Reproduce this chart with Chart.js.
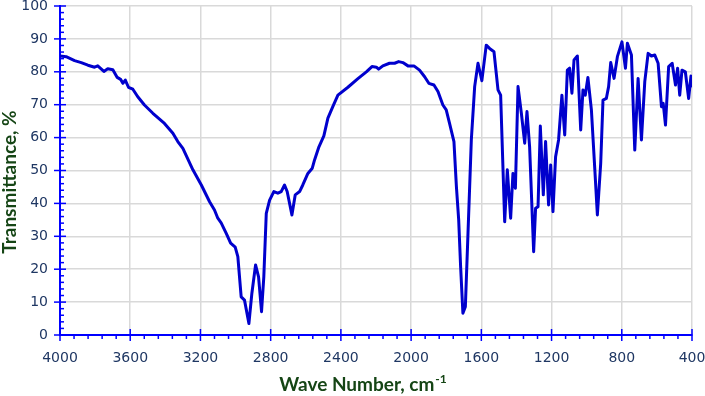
<!DOCTYPE html>
<html>
<head>
<meta charset="utf-8">
<script src="https://cdn.jsdelivr.net/npm/chart.js@4.4.1/dist/chart.umd.min.js"></script>
<style>
html, body { margin: 0; padding: 0; background: #fff; }
#wrap { width: 705px; height: 396px; }
</style>
</head>
<body>
<div id="wrap"><canvas id="irChart" width="705" height="396"></canvas></div>
<script>
// spectrum (cm-1, %)
const waveNumbers = [
    4000, 3965, 3917, 3879, 3841, 3803, 3785, 3750, 3728, 3699, 3674, 3655, 3642, 3628, 3610, 3585,
    3557, 3519, 3471, 3405, 3357, 3329, 3300, 3243, 3195, 3148, 3120, 3101, 3082, 3053, 3028, 3002,
    2987, 2968, 2949, 2924, 2907, 2886, 2869, 2852, 2839, 2825, 2806, 2782, 2759, 2740, 2721, 2706,
    2679, 2660, 2635, 2617, 2588, 2563, 2550, 2525, 2497, 2474, 2446, 2417, 2360, 2303, 2255, 2223,
    2198, 2185, 2161, 2123, 2094, 2071, 2047, 2018, 1984, 1952, 1923, 1899, 1870, 1847, 1819, 1800,
    1781, 1756, 1742, 1729, 1718, 1705, 1691, 1676, 1657, 1638, 1619, 1597, 1572, 1553, 1528, 1505,
    1490, 1467, 1452, 1433, 1420, 1406, 1391, 1372, 1353, 1340, 1325, 1302, 1291, 1277, 1264, 1247,
    1234, 1217, 1205, 1192, 1177, 1160, 1141, 1125, 1110, 1097, 1084, 1072, 1053, 1034, 1021, 1008,
    993, 973, 954, 939, 920, 907, 888, 875, 863, 844, 825, 799, 779, 768, 745, 726,
    707, 688, 669, 650, 631, 612, 593, 574, 564, 551, 533, 513, 494, 482, 470, 457,
    438, 419, 406, 400
];
const transmittance = [
    84.8, 84.6, 83.4, 82.8, 82.0, 81.4, 81.8, 80.1, 80.9, 80.6, 78.3, 77.7, 76.5, 77.5, 75.3, 74.7,
    72.4, 69.9, 67.4, 64.3, 61.3, 58.8, 56.7, 50.2, 45.6, 40.5, 38.0, 35.5, 34.1, 30.9, 27.9, 26.7,
    23.8, 11.6, 10.6, 3.5, 12.7, 21.3, 17.7, 7.1, 17.7, 37.0, 41.0, 43.6, 43.1, 43.6, 45.6, 43.6,
    36.5, 42.6, 43.6, 45.6, 49.1, 50.7, 53.2, 57.2, 60.5, 65.9, 69.4, 72.9, 75.3, 77.9, 80.0, 81.6,
    81.4, 80.8, 81.8, 82.6, 82.6, 83.1, 82.8, 81.8, 81.8, 80.5, 78.5, 76.5, 76.0, 74.0, 69.9, 68.4,
    64.3, 58.8, 45.1, 35.0, 20.8, 6.6, 8.6, 30.9, 59.3, 75.5, 82.6, 77.3, 88.1, 87.1, 86.1, 74.5,
    72.9, 34.4, 50.2, 35.5, 49.1, 44.6, 75.5, 67.4, 58.3, 67.9, 57.2, 25.3, 38.5, 39.0, 63.5, 42.6,
    58.8, 39.5, 51.7, 37.5, 54.2, 59.3, 72.9, 60.8, 80.5, 81.1, 73.5, 83.6, 84.8, 62.3, 74.5, 72.9,
    78.3, 68.4, 50.7, 36.5, 52.2, 71.4, 71.9, 75.5, 82.8, 78.0, 84.6, 89.1, 81.1, 88.7, 85.1, 56.2,
    78.0, 59.3, 77.0, 85.6, 84.8, 85.1, 82.6, 69.4, 70.4, 63.8, 81.6, 82.6, 76.0, 81.1, 72.9, 80.5,
    80.0, 71.9, 78.7, 75.7
];

const xTitle = 'Wave Number, cm';
const xTitleSup = '-1';
const yTitle = 'Transmittance, %';

const axisBlue = '#0000ff';
const lineBlue = '#0000cd';
const tickText = '#1f3763';
const titleGreen = '#154515';
const gridGray = '#d9d9d9';

const points = waveNumbers.map((w, i) => ({ x: w, y: transmittance[i] }));

// major ticks cross the axis, minor ticks are short
const tickMarks = {
    id: 'tickMarks',
    afterDraw(chart) {
        const { ctx, chartArea, scales } = chart;
        const x = scales.x, y = scales.y;
        ctx.save();
        ctx.strokeStyle = axisBlue;
        ctx.lineWidth = 1.5;
        for (let v = 400; v <= 4000; v += 80) {
            const px = x.getPixelForValue(v);
            const major = v % 400 === 0;
            ctx.beginPath();
            ctx.moveTo(px, major ? chartArea.bottom - 6 : chartArea.bottom);
            ctx.lineTo(px, chartArea.bottom + (major ? 6 : 4));
            ctx.stroke();
        }
        for (let v = 0; v <= 100; v += 2) {
            const py = y.getPixelForValue(v);
            const major = v % 10 === 0;
            ctx.beginPath();
            ctx.moveTo(chartArea.left - (major ? 6 : 0), py);
            ctx.lineTo(chartArea.left + (major ? 6 : 4), py);
            ctx.stroke();
        }
        ctx.restore();
    }
};

const axisTitles = {
    id: 'axisTitles',
    afterDraw(chart) {
        const ctx = chart.ctx;
        ctx.save();
        ctx.fillStyle = titleGreen;
        ctx.textBaseline = 'alphabetic';
        ctx.font = 'bold 19px Lato';
        const mainW = ctx.measureText(xTitle).width;
        ctx.font = 'bold 12px Lato';
        const supW = ctx.measureText(xTitleSup).width;
        const startX = 363 - (mainW + supW + 1) / 2;
        ctx.font = 'bold 19px Lato';
        ctx.textAlign = 'left';
        ctx.fillText(xTitle, startX, 391);
        ctx.font = 'bold 12px Lato';
        ctx.fillText(xTitleSup, startX + mainW + 1, 383);

        ctx.translate(15.5, 182);
        ctx.rotate(-Math.PI / 2);
        ctx.font = 'bold 19px Lato';
        ctx.textAlign = 'center';
        ctx.fillText(yTitle, 0, 0);
        ctx.restore();
    }
};

new Chart(document.getElementById('irChart'), {
    type: 'line',
    data: {
        datasets: [{
            data: points,
            borderColor: lineBlue,
            borderWidth: 3,
            pointRadius: 0,
            tension: 0,
            fill: false,
            borderJoinStyle: 'round',
            borderCapStyle: 'round',
        }],
    },
    options: {
        responsive: false,
        animation: false,
        layout: { padding: { top: 6, right: 13, left: 0, bottom: 0 } },
        plugins: {
            legend: { display: false },
            tooltip: { enabled: false },
        },
        scales: {
            x: {
                type: 'linear',
                reverse: true,
                min: 400,
                max: 4000,
                grid: { color: gridGray, lineWidth: 1.5, drawTicks: false },
                border: { color: axisBlue, width: 2 },
                ticks: {
                    stepSize: 400,
                    autoSkip: false,
                    maxRotation: 0,
                    padding: 15,
                    color: tickText,
                    font: { family: 'DejaVu Sans', size: 14 },
                    callback: (value) => String(value),
                },
                afterFit(scale) {
                    scale.height = 61;
                    scale.paddingLeft = 0;
                    scale.paddingRight = 0;
                },
            },
            y: {
                min: 0,
                max: 100,
                grid: { color: gridGray, lineWidth: 1.5, drawTicks: false },
                border: { color: axisBlue, width: 2 },
                ticks: {
                    stepSize: 10,
                    padding: 12,
                    color: tickText,
                    font: { family: 'DejaVu Sans', size: 14 },
                },
                afterFit(scale) {
                    scale.width = 60;
                    scale.paddingTop = 0;
                    scale.paddingBottom = 0;
                },
            },
        },
    },
    plugins: [tickMarks, axisTitles],
});
</script>
</body>
</html>
